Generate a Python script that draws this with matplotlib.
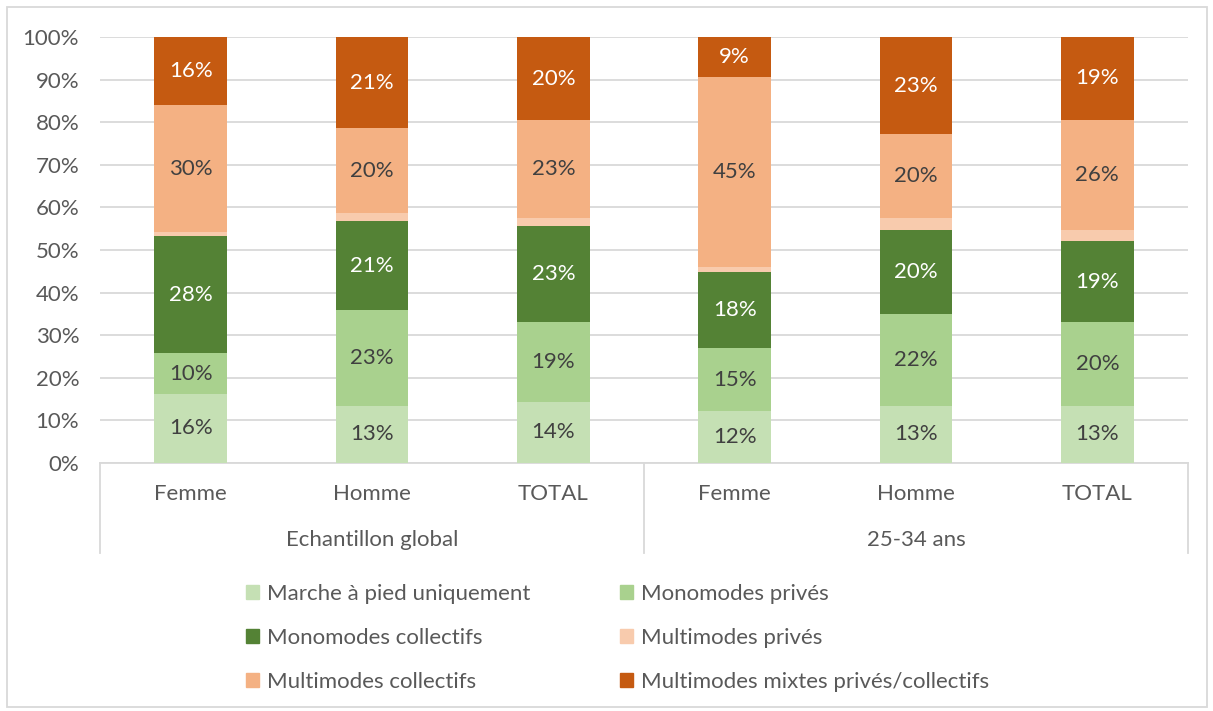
import numpy as np
import matplotlib
matplotlib.use('Agg')
from matplotlib import pyplot as plt
from matplotlib.patches import Patch, Rectangle
from matplotlib.lines import Line2D

plt.rcParams['font.family'] = ['Lato', 'DejaVu Sans']

# data (percent)
sub_labels = ['Femme', 'Homme', 'TOTAL', 'Femme', 'Homme', 'TOTAL']
groups = ['Echantillon global', '25-34 ans']
series = ['Marche à pied uniquement', 'Monomodes privés', 'Monomodes collectifs',
          'Multimodes privés', 'Multimodes collectifs', 'Multimodes mixtes privés/collectifs']
marche = [16.2, 13.4, 14.4, 12.2, 13.4, 13.4]
mono_prives = [9.6, 22.6, 18.6, 14.8, 21.6, 19.7]
mono_collectifs = [27.5, 20.7, 22.6, 17.8, 19.6, 19.0]
multi_prives = [0.9, 2.0, 1.8, 1.2, 2.9, 2.6]
multi_collectifs = [29.8, 19.9, 23.0, 44.6, 19.7, 25.9]
mixtes = [16.0, 21.4, 19.6, 9.4, 22.8, 19.4]

colors = ['#c5e0b4', '#a9d18e', '#548235', '#f8cbad', '#f4b183', '#c55a11']
label_colors = ['#404040', '#404040', 'white', None, '#404040', 'white']
all_vals = [marche, mono_prives, mono_collectifs, multi_prives, multi_collectifs, mixtes]

fs = 16
fig = plt.figure(figsize=(12.13, 7.11), dpi=100)
ax = fig.add_axes([100/1213, 1 - 463/711, 1088/1213, 426/711])

x = np.arange(len(sub_labels))
bottom = np.zeros(len(x))
for vals, c, lc, name in zip(all_vals, colors, label_colors, series):
    vals = np.array(vals)
    ax.bar(x, vals, 0.4, bottom=bottom, color=c, label=name, zorder=3)
    if lc is not None:
        for xi, b, v in zip(x, bottom, vals):
            ax.text(xi, b + v / 2, f'{v:.0f}%', ha='center', va='center',
                    color=lc, fontsize=fs, zorder=4)
    bottom += vals

ax.set_xlim(-0.5, 5.5)
ax.set_ylim(0, 100)
ax.set_yticks(np.arange(0, 101, 10))
ax.set_yticklabels([f'{t}%' for t in range(0, 101, 10)], fontsize=fs, color='#595959')
ax.yaxis.grid(True, color='#d9d9d9', linewidth=1.3, zorder=0)
ax.tick_params(axis='y', length=0, pad=15)
ax.tick_params(axis='x', length=0)
ax.set_xticks([])
for s in ['top', 'right', 'left']:
    ax.spines[s].set_visible(False)
ax.spines['bottom'].set_color('#d9d9d9')
ax.spines['bottom'].set_linewidth(1.3)

# multi-level category axis
trans = ax.get_xaxis_transform()
for xi, lab in zip(x, sub_labels):
    ax.text(xi, -31/426, lab, transform=trans, ha='center', va='center',
            fontsize=fs, color='#595959')
for gi, g in enumerate(groups):
    ax.text(gi * 3 + 1, -77/426, g, transform=trans, ha='center', va='center',
            fontsize=fs, color='#595959')
for xb in [-0.5, 2.5, 5.5]:
    ax.add_line(Line2D([xb, xb], [0, -90/426], transform=trans, color='#d9d9d9',
                       linewidth=1.3, clip_on=False))

# legend, two columns filled row by row
handles = [Patch(color=c) for c in colors]
for col, x0 in enumerate([226, 600]):
    idx = [col, col + 2, col + 4]
    leg = fig.legend([handles[i] for i in idx], [series[i] for i in idx],
                     loc='upper left', bbox_to_anchor=(x0/1213, 1 - 564/711),
                     frameon=False, fontsize=fs, labelcolor='#595959',
                     handlelength=0.6, handleheight=0.6, handletextpad=0.35,
                     labelspacing=1.08)

fig.patches.append(Rectangle((7/1213, 4/711), 1200/1213, 700/711, transform=fig.transFigure,
                             fill=False, edgecolor='#d9d9d9', linewidth=1.3))

fig.savefig('out.png', dpi=100)
